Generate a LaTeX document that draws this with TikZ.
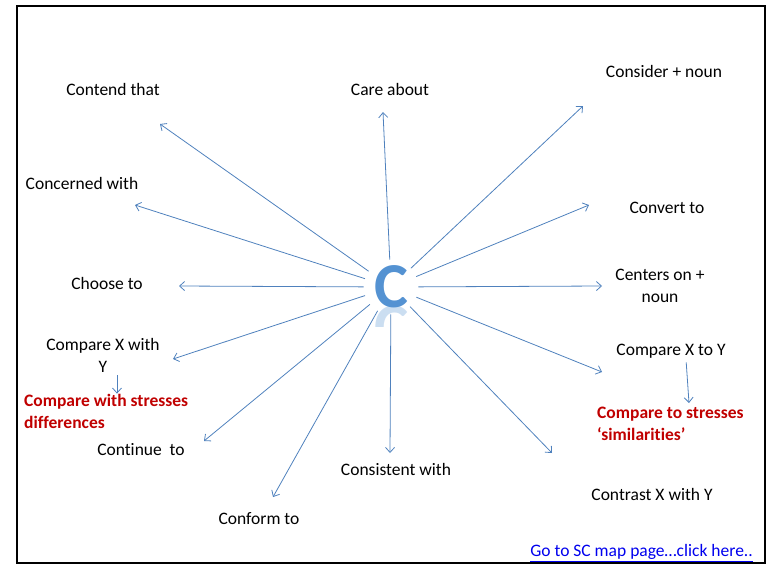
\documentclass[tikz,border=0pt]{standalone}
\usepackage{fontspec}
\setmainfont{Carlito}[Ligatures={NoCommon}]
\usetikzlibrary{arrows.meta}
\usetikzlibrary{positioning}
\definecolor{mblue}{RGB}{79,129,189}
\definecolor{cblue}{RGB}{84,146,210}
\definecolor{mred}{RGB}{192,0,0}
\definecolor{mlink}{RGB}{0,0,238}
\tikzset{spoke/.style = {draw=mblue, line width=0.8pt,
                         -{Straight Barb[length=5pt, width=9pt]}}}
\tikzset{word/.style = {font=\fontsize{17.5}{22}\selectfont, align=center, inner sep=1pt}}
\tikzset{note/.style = {font=\bfseries\fontsize{17.5}{22}\selectfont, text=mred,
                        align=left, inner sep=0}}
\tikzset{big/.style = {text=cblue, font=\bfseries\fontsize{64}{64}\selectfont}}

\begin{document}
\begin{tikzpicture}[x=1pt, y=-1pt]
    \useasboundingbox (0, 0) rectangle (771, 565);
    \draw [line width=2.4pt] (17, 6) rectangle (765, 563);

    % the letter in the middle, with its faint mirror image
    \begin{scope}
      \clip (360, 306) rectangle (425, 326);
      \node [big, yscale=-1, opacity=0.3] (cr) at (391, 327) {C};
    \end{scope}
    \node [big, circle, minimum size=44pt, inner sep=0] (c) at (391, 287) {C};

    % words round it
    \node [word] (ct) at (113, 89) {Contend that};
    \node [word] (ca) at (390, 89) {Care about};
    \node [word] (cn) at (664, 71) {Consider + noun};
    \node [word] (cw) at (82, 183) {Concerned with};
    \node [word] (cv) at (667, 208) {Convert to};
    \node [word] (ch) at (107, 283) {Choose to};
    \node [word] (co) at (660, 286) {Centers on +\\noun};
    \node [word] (cx) at (103, 355) {Compare X with\\Y};
    \node [note, anchor=west] (rd) at (24, 411) {Compare with stresses\\differences};
    \node [word] (cu) at (141, 450) {Continue\ \ to};
    \node [word] (cs) at (396, 469) {Consistent with};
    \node [word] (cy) at (671, 351) {Compare X to Y};
    \node [note, anchor=west] (rs) at (597, 424) {Compare to stresses\\‘similarities’};
    \node [word] (ck) at (652, 494) {Contrast X with Y};
    \node [word] (cf) at (259, 519) {Conform to};
    \node [word, anchor=east, text=mlink] (go) at (754, 553) {\underline{Go to SC map page…click here..}};

    % arrow tips
    \coordinate (t1) at (160, 124);
    \coordinate (t2) at (383, 112);
    \coordinate (t3) at (583, 106);
    \coordinate (t4) at (135, 205);
    \coordinate (t5) at (589, 205);
    \coordinate (t6) at (179, 286);
    \coordinate (t7) at (602, 286);
    \coordinate (t8) at (173, 359);
    \coordinate (t9) at (602, 372);
    \coordinate (t10) at (204, 441);
    \coordinate (t11) at (273, 497);
    \coordinate (t12) at (390, 453);
    \coordinate (t13) at (552, 453);

    \foreach \i in {1,...,13}
      \draw [spoke] (c) -- (t\i);

    \draw [spoke, shorten <=2pt] ([xshift=14pt]cx.south) -- ([xshift=14pt]cx.south |- rd.north);
    \draw [spoke, shorten <=3pt] ([xshift=15pt]cy.south) -- (689, 403);
\end{tikzpicture}
\end{document}
